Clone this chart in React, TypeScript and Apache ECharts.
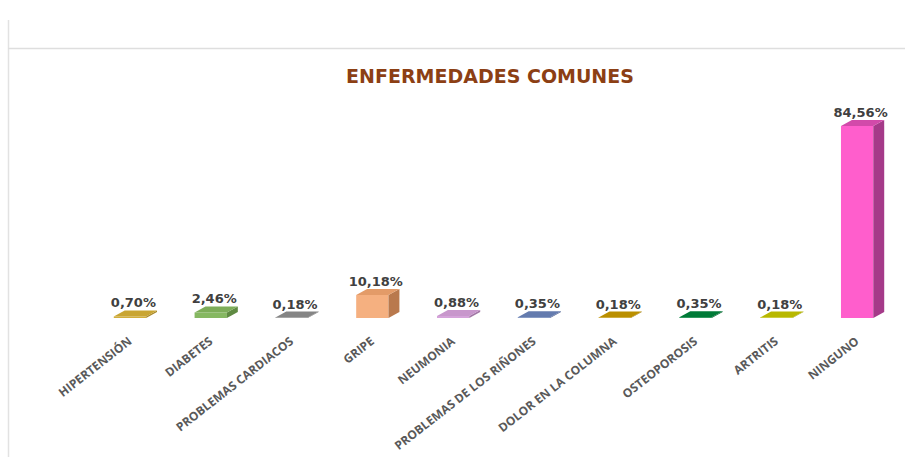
import React, { useEffect, useRef } from "react";
import * as echarts from "echarts";

const categories = [
  "HIPERTENSIÓN",
  "DIABETES",
  "PROBLEMAS CARDIACOS",
  "GRIPE",
  "NEUMONIA",
  "PROBLEMAS DE LOS RIÑONES",
  "DOLOR EN LA COLUMNA",
  "OSTEOPOROSIS",
  "ARTRITIS",
  "NINGUNO",
];
const values = [0.7, 2.46, 0.18, 10.18, 0.88, 0.35, 0.18, 0.35, 0.18, 84.56];

const frontColors = ["#D2AE3C", "#86B862", "#8E8E8E", "#F5B080", "#D5A3DA", "#6E86BA", "#C79A00", "#00873E", "#C6C600", "#FF5ECC"];
const topColors = ["#C9A532", "#7DAD59", "#858585", "#E39B68", "#C897CC", "#647BAE", "#BA8F00", "#007A37", "#B8B800", "#D24AAA"];
const sideColors = ["#A8892A", "#5F8A42", "#6A6A6A", "#B9794D", "#A277A6", "#4F6190", "#96740A", "#005E2B", "#959500", "#A53A89"];

const fmt = (v: number) => v.toFixed(2).replace(".", ",") + "%";

export default function App() {
  const ref = useRef<HTMLDivElement>(null);
  useEffect(() => {
    if (!ref.current) return;
    const chart = echarts.init(ref.current, undefined, { renderer: "svg" });
    const option: any = {
      animation: false,
      backgroundColor: "#ffffff",
      title: {
        text: "ENFERMEDADES COMUNES",
        left: 485,
        top: 61,
        textAlign: "center",
        textStyle: {
          fontFamily: "DejaVu Sans",
          fontWeight: "bold",
          fontSize: 19,
          color: "#8C3F14",
        },
      },
      graphic: [
        { type: "line", shape: { x1: 8.5, y1: 20, x2: 8.5, y2: 457 }, style: { stroke: "#e2e2e2", lineWidth: 1.5 } },
        { type: "line", shape: { x1: 8, y1: 48.5, x2: 905, y2: 48.5 }, style: { stroke: "#dedede", lineWidth: 1.5 } },
      ],
      grid: { left: 95, right: 2, top: 91, bottom: 139 },
      xAxis: {
        type: "category",
        data: categories,
        axisLine: { show: false },
        axisTick: { show: false },
        axisLabel: {
          interval: 0,
          rotate: 38,
          margin: 17,
          padding: [0, 7, 0, 0],
          fontFamily: "Open Sans",
          fontWeight: "bold",
          fontSize: 12,
          color: "#595959",
        },
      },
      yAxis: { type: "value", min: 0, max: 100, show: false, splitLine: { show: false } },
      series: [
        {
          type: "custom",
          data: values.map((v, i) => [i, v]),
          encode: { x: 0, y: 1 },
          renderItem: (params: any, api: any) => {
            const idx = api.value(0);
            const val = api.value(1);
            const top = api.coord([idx, val]);
            const base = api.coord([idx, 0]);
            const band = api.size([1, 0])[0];
            const fw = band * 0.4;
            const dx = band * 0.135;
            const dy = 6;
            const c = base[0];
            const l = c - (fw + dx) / 2;
            const r = l + fw;
            const yt = top[1];
            const yb = base[1];
            return {
              type: "group",
              children: [
                { type: "rect", shape: { x: l, y: yt, width: fw, height: Math.max(yb - yt, 0.5) }, style: { fill: frontColors[idx] } },
                { type: "polygon", shape: { points: [[r, yt], [r + dx, yt - dy], [r + dx, yb - dy], [r, yb]] }, style: { fill: sideColors[idx] } },
                { type: "polygon", shape: { points: [[l, yt], [l + dx, yt - dy], [r + dx, yt - dy], [r, yt]] }, style: { fill: topColors[idx] } },
                {
                  type: "text",
                  style: {
                    text: fmt(val),
                    x: c - 2,
                    y: yt - dy - 1,
                    align: "center",
                    verticalAlign: "bottom",
                    fontFamily: "DejaVu Sans",
                    fontWeight: "bold",
                    fontSize: 13,
                    fill: "#404040",
                  },
                },
              ],
            };
          },
        },
      ],
    };
    chart.setOption(option);
    return () => chart.dispose();
  }, []);
  return <div ref={ref} style={{ position: "fixed", left: 0, top: 0, width: 905, height: 457 }} />;
}
